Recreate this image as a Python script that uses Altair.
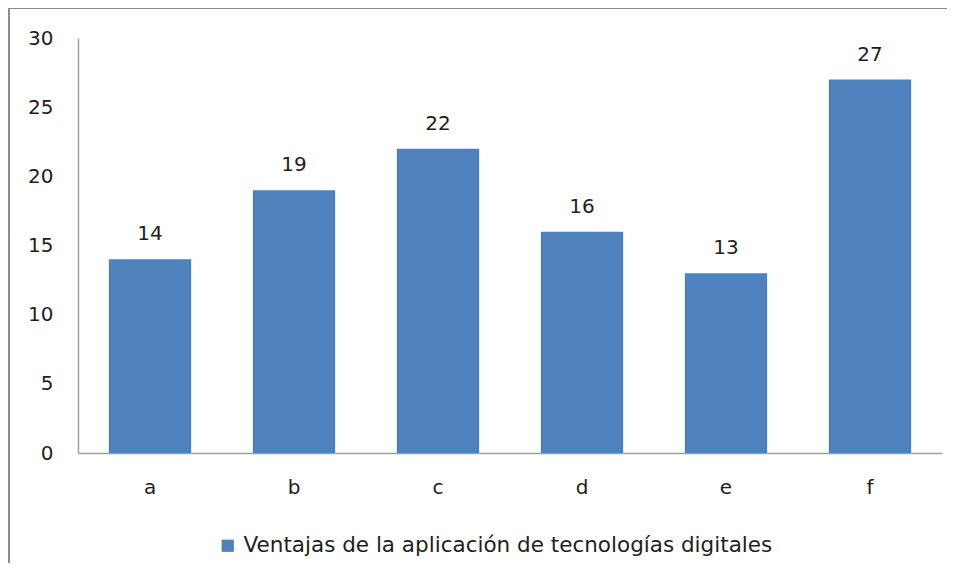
import altair as alt
import pandas as pd

categories = ["a", "b", "c", "d", "e", "f"]
values = [14, 19, 22, 16, 13, 27]
series_name = "Ventajas de la aplicación de tecnologías digitales"
y_ticks = [0, 5, 10, 15, 20, 25, 30]

df = pd.DataFrame({"cat": categories, "val": values, "serie": [series_name] * len(categories)})

FONT = "DejaVu Sans"
AXIS_GRAY = "#a0a0a0"
TEXT = "#1e1e1e"
BAR = "#4f81bd"
FS = 20

base = alt.Chart(df)

bars = base.mark_bar(color=BAR).encode(
    x=alt.X("cat:N", sort=categories,
            scale=alt.Scale(paddingInner=0.4286, paddingOuter=0.2143),
            axis=alt.Axis(title=None, labelAngle=0, ticks=False, domainColor=AXIS_GRAY,
                          domainWidth=1.5, labelFontSize=FS, labelColor=TEXT,
                          labelPadding=24, labelFont=FONT, grid=False)),
    y=alt.Y("val:Q", scale=alt.Scale(domain=[0, 30], nice=False),
            axis=alt.Axis(title=None, values=y_ticks, ticks=False, domainColor=AXIS_GRAY,
                          domainWidth=1.5, labelFontSize=FS, labelColor=TEXT,
                          labelPadding=25, labelFont=FONT, grid=False)),
    color=alt.Color("serie:N", scale=alt.Scale(range=[BAR]),
                    legend=alt.Legend(title=None, orient="none", legendX=139, legendY=497,
                                      direction="horizontal", symbolType="square",
                                      symbolSize=150, symbolStrokeWidth=0, symbolOffset=0,
                                      labelFontSize=21.5, labelColor=TEXT, labelFont=FONT,
                                      labelOffset=5, labelLimit=800)),
)

labels = base.mark_text(baseline="bottom", dy=-15, fontSize=FS, color=TEXT, font=FONT).encode(
    x=alt.X("cat:N", sort=categories),
    y=alt.Y("val:Q"),
    text=alt.Text("val:Q"),
)

# chart outer frame (left and top edges, as in the reference)
frame_left = alt.Chart(df).mark_rule(color="#8c8c8c", strokeWidth=2).encode(
    x=alt.value(-69), y=alt.value(-30), y2=alt.value(560)
)
frame_top = alt.Chart(df).mark_rule(color="#8c8c8c", strokeWidth=2).encode(
    x=alt.value(-69), x2=alt.value(900), y=alt.value(-30)
)

chart = alt.layer(bars, labels, frame_left, frame_top).properties(
    width=864, height=415,
    autosize=alt.AutoSizeParams(type="none"),
    padding={"left": 70, "top": 30, "right": 5, "bottom": 110},
).configure(background="white").configure_view(stroke="transparent", strokeWidth=0)

chart.save("out.html", embed_options={"renderer": "svg", "actions": False})
